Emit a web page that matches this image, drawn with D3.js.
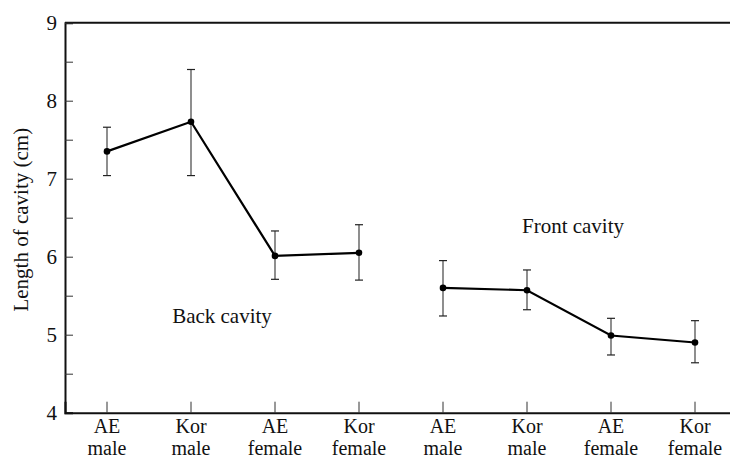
<!DOCTYPE html>
<html>
<head>
<meta charset="utf-8">
<script src="https://cdn.jsdelivr.net/npm/d3@7"></script>
<style>
  html, body { margin: 0; padding: 0; background: #fff; }
  svg { display: block; }
  text { font-family: "Liberation Serif", "Times New Roman", serif; fill: #111; }
</style>
</head>
<body>
<svg id="chart" width="730" height="460"></svg>
<script>
// ---- data ----
const categories = ["AE|male", "Kor|male", "AE|female", "Kor|female", "AE|male", "Kor|male", "AE|female", "Kor|female"];
const backMeans  = [7.35, 7.73, 6.01, 6.05];
const backLow    = [7.04, 7.04, 5.71, 5.70];
const backHigh   = [7.66, 8.40, 6.33, 6.41];
const frontMeans = [5.60, 5.57, 4.99, 4.90];
const frontLow   = [5.24, 5.32, 4.74, 4.64];
const frontHigh  = [5.95, 5.83, 5.21, 5.18];
const yTicks = [4, 5, 6, 7, 8, 9];
const yMinorTicks = [4.5, 5.5, 6.5, 7.5, 8.5];
const groupLabels = ["Back cavity", "Front cavity"];

// ---- layout ----
const svg = d3.select("#chart");
const mLeft = 65, mRight = 737, mTop = 22.7, mBottom = 412.7;
const fs = 21;

const idx = d3.range(categories.length);
const x = d3.scaleBand().domain(idx).range([mLeft, mRight]).padding(0);
const cx = i => x(i) + x.bandwidth() / 2;
const y = d3.scaleLinear().domain([4, 9]).range([mBottom, mTop]);

// top frame line
svg.append("line")
  .attr("x1", mLeft).attr("x2", 730).attr("y1", y(9)).attr("y2", y(9))
  .attr("stroke", "#111").attr("stroke-width", 2);

// y axis
const yAxis = svg.append("g").attr("transform", `translate(${mLeft},0)`)
  .call(d3.axisRight(y).tickValues(yTicks).tickSize(8).tickFormat(""));
yAxis.select(".domain").attr("stroke", "#111").attr("stroke-width", 2);
yAxis.selectAll(".tick line").attr("stroke", "#333").attr("stroke-width", 1);
const yMinor = svg.append("g").attr("transform", `translate(${mLeft},0)`)
  .call(d3.axisRight(y).tickValues(yMinorTicks).tickSize(8).tickFormat(""));
yMinor.select(".domain").remove();
yMinor.selectAll(".tick line").attr("stroke", "#333").attr("stroke-width", 1);

svg.append("g").selectAll("text").data(yTicks).join("text")
  .attr("x", mLeft - 8).attr("y", d => y(d)).attr("dy", "0.33em")
  .attr("text-anchor", "end").attr("font-size", fs).text(d => d);

// x axis
const xAxis = svg.append("g").attr("transform", `translate(0,${mBottom})`)
  .call(d3.axisTop(x).tickSize(11).tickFormat(""));
xAxis.select(".domain").attr("stroke", "#111").attr("stroke-width", 2);
xAxis.selectAll(".tick line").attr("stroke", "#333").attr("stroke-width", 1);

const xl = svg.append("g").selectAll("text").data(idx).join("text")
  .attr("text-anchor", "middle").attr("font-size", 20);
xl.append("tspan").attr("x", i => cx(i)).attr("y", 433).text(i => categories[i].split("|")[0]);
xl.append("tspan").attr("x", i => cx(i)).attr("y", 455).text(i => categories[i].split("|")[1]);

// y label
svg.append("text")
  .attr("transform", `translate(28,${(mTop + mBottom) / 2 + 2}) rotate(-90)`)
  .attr("text-anchor", "middle").attr("font-size", fs)
  .text("Length of cavity (cm)");

// series
const series = [
  { offset: 0, means: backMeans, low: backLow, high: backHigh },
  { offset: 4, means: frontMeans, low: frontLow, high: frontHigh }
];
const line = d3.line().x(d => cx(d.i)).y(d => y(d.v));
series.forEach(s => {
  const pts = s.means.map((v, k) => ({ i: s.offset + k, v, lo: s.low[k], hi: s.high[k] }));
  const g = svg.append("g");
  pts.forEach(p => {
    g.append("line").attr("x1", cx(p.i)).attr("x2", cx(p.i))
      .attr("y1", y(p.lo)).attr("y2", y(p.hi)).attr("stroke", "#444").attr("stroke-width", 1.2);
    [p.lo, p.hi].forEach(e => {
      g.append("line").attr("x1", cx(p.i) - 4).attr("x2", cx(p.i) + 4)
        .attr("y1", y(e)).attr("y2", y(e)).attr("stroke", "#222").attr("stroke-width", 1.2);
    });
  });
  g.append("path").datum(pts).attr("d", line)
    .attr("fill", "none").attr("stroke", "#000").attr("stroke-width", 2.2);
  g.selectAll("circle").data(pts).join("circle")
    .attr("cx", d => cx(d.i)).attr("cy", d => y(d.v)).attr("r", 3.3).attr("fill", "#000");
});

// group labels
svg.append("text").attr("x", (cx(1) + cx(2)) / 2 - 11).attr("y", y(5.156))
  .attr("text-anchor", "middle").attr("font-size", fs).text(groupLabels[0]);
svg.append("text").attr("x", (cx(5) + cx(6)) / 2 + 4).attr("y", y(6.31))
  .attr("text-anchor", "middle").attr("font-size", fs).text(groupLabels[1]);
</script>
</body>
</html>
